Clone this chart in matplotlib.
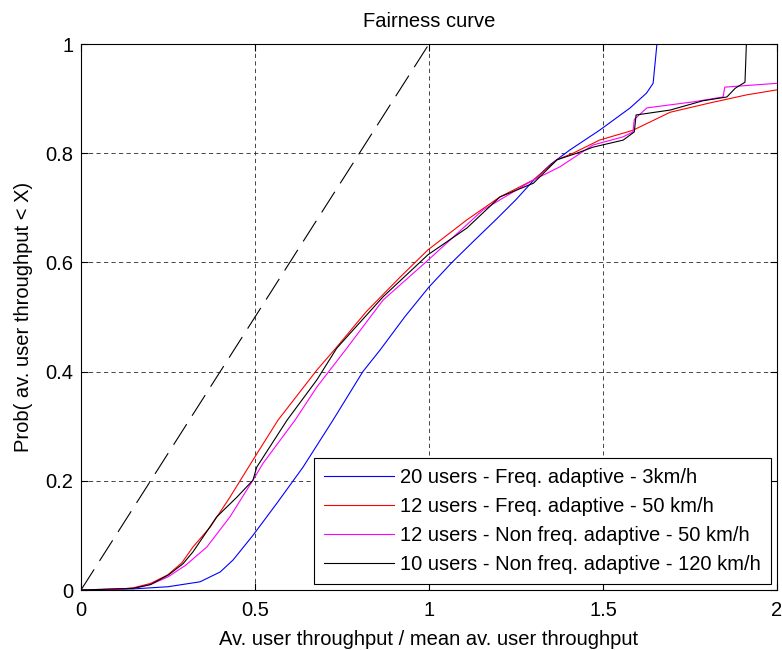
import numpy as np
import matplotlib
matplotlib.use("Agg")
from matplotlib import pyplot as plt

plt.rcParams['font.family'] = ['Liberation Sans', 'DejaVu Sans']

labels = ["20 users - Freq. adaptive - 3km/h",
          "12 users - Freq. adaptive - 50 km/h",
          "12 users - Non freq. adaptive - 50 km/h",
          "10 users - Non freq. adaptive - 120 km/h"]
colors = ["blue", "red", "magenta", "black"]

blue_x = [0, 0.15, 0.25, 0.342, 0.4, 0.437, 0.494, 0.563, 0.638, 0.724, 0.81, 0.86, 0.93,
          1.0, 1.066, 1.13, 1.195, 1.25, 1.3, 1.35, 1.405, 1.49, 1.578, 1.625, 1.644, 1.655, 2.0]
blue_y = [0, 0.002, 0.006, 0.015, 0.033, 0.055, 0.10, 0.159, 0.225, 0.311, 0.40, 0.44, 0.50,
          0.555, 0.60, 0.64, 0.68, 0.715, 0.75, 0.78, 0.806, 0.842, 0.883, 0.91, 0.928, 1.0, 1.0]

red_x = [0, 0.1, 0.15, 0.2, 0.25, 0.29, 0.322, 0.371, 0.428, 0.494, 0.566, 0.678, 0.735, 0.82, 0.917,
         0.997, 1.109, 1.204, 1.3, 1.368, 1.414, 1.49, 1.586, 1.693, 1.807, 1.914, 2.0]
red_y = [0, 0.001, 0.004, 0.012, 0.028, 0.05, 0.079, 0.115, 0.17, 0.238, 0.311, 0.403, 0.445, 0.51, 0.573,
         0.623, 0.678, 0.72, 0.751, 0.788, 0.80, 0.824, 0.842, 0.875, 0.892, 0.907, 0.916]

mag_x = [0, 0.15, 0.2, 0.25, 0.3, 0.362, 0.428, 0.494, 0.523, 0.615, 0.678, 0.764, 0.868, 0.997, 1.155,
         1.3, 1.376, 1.471, 1.558, 1.586, 1.59, 1.626, 1.759, 1.845, 1.85, 2.0]
mag_y = [0, 0.003, 0.01, 0.024, 0.045, 0.079, 0.134, 0.201, 0.232, 0.311, 0.372, 0.443, 0.531, 0.604, 0.696,
         0.751, 0.775, 0.815, 0.83, 0.839, 0.862, 0.883, 0.894, 0.903, 0.921, 0.928]

blk_x = [0, 0.15, 0.2, 0.25, 0.293, 0.322, 0.39, 0.448, 0.494, 0.505, 0.592, 0.678, 0.735, 0.868, 0.997,
         1.109, 1.204, 1.3, 1.368, 1.425, 1.471, 1.558, 1.59, 1.595, 1.693, 1.787, 1.856, 1.88, 1.908,
         1.912, 2.0]
blk_y = [0, 0.003, 0.01, 0.027, 0.048, 0.07, 0.134, 0.17, 0.201, 0.225, 0.311, 0.385, 0.443, 0.537, 0.614,
         0.663, 0.72, 0.745, 0.788, 0.80, 0.811, 0.824, 0.839, 0.87, 0.879, 0.896, 0.903, 0.919, 0.93,
         1.0, 1.0]

diag_x = [0, 1]
diag_y = [0, 1]

fs = 14.5

fig = plt.figure(figsize=(7.82, 6.5), dpi=100)
ax = fig.add_axes([81 / 782, 60 / 650, 696 / 782, 546 / 650])

series = [(blue_x, blue_y), (red_x, red_y), (mag_x, mag_y), (blk_x, blk_y)]
for (sx, sy), c, lab in zip(series, colors, labels):
    ax.plot(sx, sy, color=c, lw=0.8, label=lab)
ax.plot(diag_x, diag_y, color="black", lw=0.8, dashes=(22, 9))

ax.set_xlim(0, 2)
ax.set_ylim(0, 1)
ax.set_xticks([0, 0.5, 1, 1.5, 2])
ax.set_xticklabels(["0", "0.5", "1", "1.5", "2"])
ax.set_yticks([0, 0.2, 0.4, 0.6, 0.8, 1])
ax.set_yticklabels(["0", "0.2", "0.4", "0.6", "0.8", "1"])
ax.grid(True, color="0.15", lw=0.6, dashes=(5, 4))
ax.tick_params(direction="in", top=True, right=True, length=5, labelsize=fs)
ax.tick_params(axis="x", pad=8)
ax.tick_params(axis="y", pad=5.5)
for sp in ax.spines.values():
    sp.set_linewidth(0.8)

ax.set_title("Fairness curve", fontsize=fs, pad=12)
ax.set_xlabel("Av. user throughput / mean av. user throughput", fontsize=fs, labelpad=7)
ax.set_ylabel("Prob( av. user throughput < X)", fontsize=fs, labelpad=9)

leg = ax.legend(loc="lower right", fontsize=fs, fancybox=False, framealpha=1,
                edgecolor="black", handlelength=3.5, handletextpad=0.3,
                labelspacing=0.5, borderpad=0.5, borderaxespad=0.3)
leg.get_frame().set_linewidth(0.8)

fig.savefig("out.png", dpi=100)
